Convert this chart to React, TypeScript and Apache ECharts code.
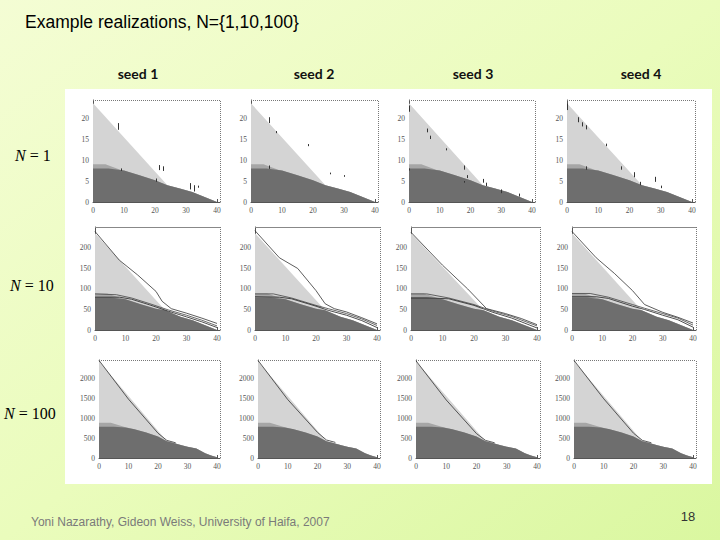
import React, { useEffect, useRef } from "react";
import * as echarts from "echarts";

// ---------- DATA ----------
const seedLabels = ["seed 1", "seed 2", "seed 3", "seed 4"];
const rowLabels = ["1", "10", "100"];
const xTicks = [0, 10, 20, 30, 40];
const yTicksByRow = [
  [0, 5, 10, 15, 20],
  [0, 50, 100, 150, 200],
  [0, 500, 1000, 1500, 2000],
];
const yMaxByRow = [24.3, 251, 2450];

// fluid solution, N = 1
const lightN1 = [[0, 23.5], [24, 4.0], [28, 3.2], [32, 2.4], [40, 0]];
const mediumN1 = [[0, 9], [4, 9], [9, 7.6], [10, 7.5], [15, 6.4], [20, 5.2], [24, 4.0], [28, 3.2], [32, 2.4], [40, 0]];
const darkN1 = [[0, 8], [5, 8], [10, 7.5], [15, 6.4], [20, 5.2], [24, 4.0], [28, 3.2], [32, 2.4], [40, 0]];
// fluid solution, N = 10
const lightN10 = [[0, 236], [23, 48], [28, 32], [32, 24], [40, 0]];
const mediumN10 = [[0, 89], [4, 89], [9, 77], [10, 75], [15, 63], [20, 52], [23, 48], [28, 32], [32, 24], [40, 0]];
const darkN10 = [[0, 79], [5, 79], [10, 75], [15, 63], [20, 52], [23, 48], [28, 32], [32, 24], [40, 0]];
// fluid solution, N = 100
const lightN100 = [[0, 2420], [23, 420], [25, 380], [28, 320], [30, 280], [33, 240], [36, 120], [38, 60], [40, 20]];
const mediumN100 = [[0, 880], [4, 880], [9, 770], [12, 720], [16, 640], [20, 540], [23, 420], [25, 380], [28, 320], [30, 280], [33, 240], [36, 120], [38, 60], [40, 20]];
const darkN100 = [[0, 780], [5, 780], [9, 760], [12, 720], [16, 640], [20, 540], [23, 420], [25, 380], [28, 320], [30, 280], [33, 240], [36, 120], [38, 60], [40, 20]];

// N = 1 realizations: jump segments [t, yFrom, yTo]
const jumpsSeed1 = [[8, 17.2, 18.8], [9, 7.4, 8.0], [21.5, 7.6, 8.8], [22.5, 7.4, 8.5], [20.5, 4.8, 5.6], [31.5, 3.0, 4.5], [32.5, 2.5, 4.0], [34, 3.4, 3.9]];
const jumpsSeed2 = [[6, 18.8, 20.2], [8, 16.4, 16.9], [18.4, 13.3, 13.8], [6, 7.9, 8.7], [25.5, 6.6, 7.0], [30, 6.0, 6.4]];
const jumpsSeed3 = [[0, 21.5, 23], [5.8, 16.6, 17.5], [7, 15, 15.8], [12, 12.3, 12.8], [18, 7.7, 8.7], [19, 5.7, 6.4], [18, 4.6, 5.0], [24, 4.6, 5.5], [25, 3.8, 4.6], [30, 2.1, 3.0], [36, 1.3, 2.0], [0, 7.5, 8.0]];
const jumpsSeed4 = [[0, 21.9, 23.5], [3.5, 19, 20.2], [5, 18, 19], [6, 17.3, 18.3], [12.6, 13.3, 13.9], [6, 7.7, 8.5], [17.2, 7.7, 8.5], [21.5, 5.9, 7.1], [23.3, 4.0, 4.8], [28.3, 4.8, 6.0], [30, 3.3, 3.9]];

// N = 10 realizations: three paths per seed
const n10Seed1Top = [[0, 240], [8, 170], [14, 134], [20, 94], [22, 70], [25, 52], [30, 41], [35, 29], [40, 16]];
const n10Seed1Mid = [[0, 88], [7, 86], [12, 78], [18, 64], [24, 49], [30, 36], [35, 24], [40, 10]];
const n10Seed1Low = [[0, 80], [8, 80], [12, 75], [18, 61], [24, 46], [30, 32], [35, 20], [40, 6]];
const n10Seed2Top = [[0, 242], [8, 176], [14, 150], [20, 96], [23, 64], [26, 52], [30, 44], [35, 30], [40, 15]];
const n10Seed2Mid = [[0, 88], [6, 88], [12, 78], [20, 60], [24, 52], [30, 40], [35, 27], [40, 11]];
const n10Seed2Low = [[0, 81], [8, 80], [12, 76], [20, 58], [24, 48], [30, 36], [35, 23], [40, 6]];
const n10Seed3Top = [[0, 238], [6, 190], [10, 158], [18, 100], [24, 52], [30, 40], [35, 28], [40, 13]];
const n10Seed3Mid = [[0, 88], [5, 88], [12, 78], [20, 62], [26, 46], [32, 33], [40, 10]];
const n10Seed3Low = [[0, 78], [6, 78], [12, 76], [20, 60], [26, 43], [32, 29], [40, 5]];
const n10Seed4Top = [[0, 240], [8, 176], [14, 138], [20, 96], [24, 62], [30, 43], [35, 31], [40, 17]];
const n10Seed4Mid = [[0, 89], [6, 89], [12, 80], [20, 62], [24, 53], [30, 40], [35, 29], [40, 12]];
const n10Seed4Low = [[0, 81], [8, 81], [12, 77], [20, 58], [24, 50], [30, 36], [35, 25], [40, 7]];

// N = 100 realizations: path along the upper boundary
const n100Seed1Top = [[0, 2440], [10, 1470], [20, 620], [23, 440], [26, 380]];
const n100Seed2Top = [[0, 2440], [10, 1460], [20, 640], [23, 450], [26, 390]];
const n100Seed3Top = [[0, 2430], [10, 1450], [20, 610], [23, 440], [26, 380]];
const n100Seed4Top = [[0, 2440], [10, 1480], [20, 620], [23, 440], [26, 380]];

const fluidByRow = [
  [lightN1, mediumN1, darkN1],
  [lightN10, mediumN10, darkN10],
  [lightN100, mediumN100, darkN100],
];
const jumpsBySeed = [jumpsSeed1, jumpsSeed2, jumpsSeed3, jumpsSeed4];
const n10BySeed = [
  [n10Seed1Top, n10Seed1Mid, n10Seed1Low],
  [n10Seed2Top, n10Seed2Mid, n10Seed2Low],
  [n10Seed3Top, n10Seed3Mid, n10Seed3Low],
  [n10Seed4Top, n10Seed4Mid, n10Seed4Low],
];
const n100BySeed = [n100Seed1Top, n100Seed2Top, n100Seed3Top, n100Seed4Top];

// ---------- LAYOUT ----------
const X_MAX = 41;
const rowLayout = [
  { top: 100, height: 102, lefts: [93, 251, 409, 567], ends: [217, 375, 532, 692] },
  { top: 227, height: 103, lefts: [95, 255, 411, 572], ends: [217, 377, 537, 693] },
  { top: 360, height: 98, lefts: [99, 258, 416, 574], ends: [217, 377, 537, 693] },
];
const LIGHT = "#d4d4d4";
const MEDIUM = "#a6a6a6";
const DARK = "#6e6e6e";

function buildOption() {
  const grid: any[] = [];
  const xAxis: any[] = [];
  const yAxis: any[] = [];
  const series: any[] = [];
  let idx = 0;
  for (let r = 0; r < 3; r++) {
    const L = rowLayout[r];
    for (let c = 0; c < 4; c++) {
      const w = ((L.ends[c] - L.lefts[c]) * X_MAX) / 40;
      grid.push({ left: L.lefts[c], top: L.top, width: w, height: L.height });
      const labelStyle = { fontSize: 7.5, color: "#555", margin: 4, fontFamily: "Liberation Serif", formatter: (v: number) => String(v) };
      const common = {
        gridIndex: idx,
        type: "value",
        min: 0,
        splitLine: { show: false },
        axisLine: { show: true, lineStyle: { color: "#555", width: 1 } },
      };
      xAxis.push({
        ...common,
        max: X_MAX,
        axisTick: { show: true, inside: true, length: 3, lineStyle: { color: "#555" }, customValues: xTicks },
        axisLabel: { ...labelStyle, customValues: xTicks },
      });
      yAxis.push({
        ...common,
        max: yMaxByRow[r],
        axisTick: { show: true, inside: true, length: 3, lineStyle: { color: "#555" }, customValues: yTicksByRow[r] },
        axisLabel: { ...labelStyle, customValues: yTicksByRow[r] },
      });

      const [light, medium, dark] = fluidByRow[r];
      const frameStyle = { type: "dotted", color: "#777", width: 1 };
      series.push({
        type: "line",
        xAxisIndex: idx,
        yAxisIndex: idx,
        data: light,
        symbol: "none",
        silent: true,
        lineStyle: { width: 0, opacity: 0 },
        areaStyle: { color: LIGHT, opacity: 1 },
        markLine: {
          silent: true,
          symbol: "none",
          label: { show: false },
          data: [
            { yAxis: yMaxByRow[r], lineStyle: r === 1 ? { type: "solid", color: "#888", width: 1 } : frameStyle },
            { xAxis: X_MAX, lineStyle: frameStyle },
          ],
        },
      });
      series.push({
        type: "line",
        xAxisIndex: idx,
        yAxisIndex: idx,
        data: medium,
        symbol: "none",
        silent: true,
        lineStyle: { width: 0, opacity: 0 },
        areaStyle: { color: MEDIUM, opacity: 1 },
      });
      series.push({
        type: "line",
        xAxisIndex: idx,
        yAxisIndex: idx,
        data: dark,
        symbol: "none",
        silent: true,
        lineStyle: { width: 0, opacity: 0 },
        areaStyle: { color: DARK, opacity: 1 },
      });

      if (r === 0) {
        series.push({
          type: "line",
          xAxisIndex: idx,
          yAxisIndex: idx,
          data: [],
          symbol: "none",
          silent: true,
          markLine: {
            silent: true,
            symbol: "none",
            label: { show: false },
            lineStyle: { type: "solid", color: "#333", width: 1 },
            data: jumpsBySeed[c].map((j) => [{ coord: [j[0], j[1]] }, { coord: [j[0], j[2]] }]),
          },
        });
      } else if (r === 1) {
        const [top, mid, low] = n10BySeed[c];
        [
          [top, "#333"],
          [mid, "#444"],
          [low, "#222"],
        ].forEach(([d, col]) => {
          series.push({
            type: "line",
            xAxisIndex: idx,
            yAxisIndex: idx,
            data: d,
            symbol: "none",
            silent: true,
            lineStyle: { width: 0.8, color: col },
          });
        });
      } else {
        series.push({
          type: "line",
          xAxisIndex: idx,
          yAxisIndex: idx,
          data: n100BySeed[c],
          symbol: "none",
          silent: true,
          lineStyle: { width: 0.8, color: "#333" },
        });
      }
      idx++;
    }
  }

  const seedCenters = [138, 314, 473, 641];
  const rowLabelPos = [
    { x: 15, y: 155 },
    { x: 10, y: 285 },
    { x: 4, y: 413 },
  ];

  const graphic: any[] = [
    { type: "rect", z: 0, shape: { x: 65, y: 89, width: 647, height: 395 }, style: { fill: "#ffffff" }, silent: true },
    {
      type: "text",
      z: 100,
      x: 25,
      y: 22,
      style: { text: "Example realizations, N={1,10,100}", fill: "#000", font: "17.5px 'Liberation Sans'", verticalAlign: "middle" },
    },
    ...seedLabels.map((s, i) => ({
      type: "text",
      z: 100,
      x: seedCenters[i],
      y: 73,
      style: { text: s, fill: "#111", font: "bold 14px Lato", align: "center", verticalAlign: "middle" },
    })),
    ...rowLabels.map((n, i) => ({
      type: "text",
      z: 100,
      x: rowLabelPos[i].x,
      y: rowLabelPos[i].y,
      style: {
        text: "{i|N} = " + n,
        fill: "#000",
        font: "16px 'Liberation Serif'",
        verticalAlign: "middle",
        rich: { i: { fontStyle: "italic", fontSize: 16, fontFamily: "Liberation Serif" } },
      },
    })),
    {
      type: "text",
      z: 100,
      x: 31,
      y: 522,
      style: { text: "Yoni Nazarathy, Gideon Weiss, University of Haifa, 2007", fill: "#7a7a7a", font: "12px 'Liberation Sans'", verticalAlign: "middle" },
    },
    {
      type: "text",
      z: 100,
      x: 688,
      y: 516,
      style: { text: "18", fill: "#333", font: "13px 'Liberation Sans'", align: "center", verticalAlign: "middle" },
    },
  ];

  return {
    animation: false,
    backgroundColor: new echarts.graphic.LinearGradient(0, 0, 1, 1, [
      { offset: 0, color: "#f4fdd4" },
      { offset: 0.5, color: "#eafcbc" },
      { offset: 1, color: "#daf7a0" },
    ]),
    grid,
    xAxis,
    yAxis,
    series,
    graphic,
  };
}

export default function App() {
  const ref = useRef<HTMLDivElement>(null);
  useEffect(() => {
    if (!ref.current) return;
    const chart = echarts.init(ref.current, undefined, { renderer: "svg" });
    chart.setOption(buildOption() as any);
    return () => chart.dispose();
  }, []);
  return <div ref={ref} style={{ position: "fixed", left: 0, top: 0, width: 720, height: 540 }} />;
}
